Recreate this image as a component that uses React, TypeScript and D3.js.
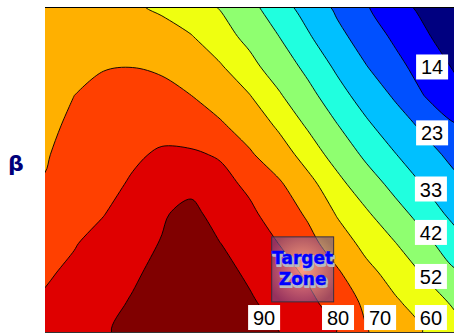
import React from "react";
import * as d3 from "d3";

// contour levels; band k is drawn where value >= levels[k-1]
const levels = [5, 14, 23, 33, 42, 52, 60, 70, 80, 90];
const bandColors = [
  "#000080", "#0000ff", "#0050ff", "#00c0ff", "#20ffdf", "#8fff70",
  "#efff10", "#ffb000", "#ff4000", "#df0000", "#800000",
];

// labelled contour values and their tag positions (grid col/row units)
const labelLevels = [14, 23, 33, 42, 52, 60, 70, 80, 90];
const labelCols = [13.75, 13.75, 13.71, 13.71, 13.71, 13.71, 11.97, 10.53, 8.0];
const labelRows = [2.53, 4.76, 6.66, 8.13, 9.62, 11.01, 11.01, 11.01, 11.01];

const zRows: number[][] = [
  [66, 64.3, 62.7, 61.0, 58.6, 55.2, 51.5, 44.5, 37.0, 29.0, 21.2, 14.6, 8.4, 2.6, -3],
  [67, 67.3, 67.5, 66.2, 63.3, 60.4, 55.5, 49.6, 42.1, 34.1, 25.6, 18.6, 12.4, 6.3, 0],
  [68, 69.0, 69.6, 69.8, 68.5, 63.5, 60.6, 54.6, 47.3, 39.5, 31.3, 23.2, 16.4, 10.2, 4.2],
  [68.5, 70.0, 71.9, 73.9, 73.0, 70.1, 65.3, 60.3, 53.1, 44.9, 36.5, 28.9, 21.7, 13.8, 8.1],
  [69, 70.8, 72.9, 75.0, 77.2, 75.4, 71.2, 65.4, 58.7, 50.9, 42.3, 34.5, 27.5, 20.9, 14.6],
  [69.4, 72.7, 75.8, 78.8, 81.1, 81.2, 79.2, 71.3, 64.1, 56.7, 48.5, 40.1, 33.3, 26.5, 20.5],
  [70.4, 74.6, 77.7, 80.9, 84.7, 86.6, 82.8, 78.3, 71.5, 62.6, 54.7, 46.7, 39.1, 32.3, 25.4],
  [75, 77.4, 79.7, 84.1, 88.8, 93.4, 85.0, 81.8, 75.8, 68.6, 59.3, 53.2, 45.4, 38.1, 30.5],
  [77.5, 79.5, 82.9, 86.7, 90.5, 94.0, 90.1, 85.0, 79.9, 73.3, 64.8, 57.3, 52.2, 44.3, 37.0],
  [79, 81.6, 85.2, 88.8, 92.4, 96.0, 92.6, 88.7, 83.9, 78.5, 71.3, 62.6, 56.5, 51.2, 43.1],
  [81, 84.2, 87.5, 90.7, 93.7, 96.8, 94.2, 91.1, 87.0, 82.3, 75.9, 68.0, 61.1, 55.9, 51],
  [82.5, 85.9, 89.2, 92.1, 94.9, 97.7, 95.6, 92.9, 90.1, 85.1, 79.9, 70.5, 64.9, 59.6, 55],
];

// target zone corners in grid units
const zoneCols = [8.26, 10.38];
const zoneRows = [8.28, 10.48];

export default function App() {
  const width = 454;
  const height = 334;
  const plot = { left: 45, top: 7, right: 454, bottom: 332 };

  const nx = zRows[0].length;
  const ny = zRows.length;

  const x = d3.scaleLinear().domain([0.5, nx - 0.5]).range([plot.left, plot.right]);
  const y = d3.scaleLinear().domain([0.5, ny - 0.5]).range([plot.top, plot.bottom]);

  const contours = d3.contours().size([nx, ny]).thresholds(levels)(zRows.flat());

  // smooth the marching-squares rings so the bands look like the original
  const ringLine = d3
    .line<number[]>()
    .x((p) => x(p[0]))
    .y((p) => y(p[1]))
    .curve(d3.curveCatmullRomClosed.alpha(0.5));

  function contourPath(c: any) {
    let d = "";
    c.coordinates.forEach((polygon: number[][][]) => {
      polygon.forEach((ring) => {
        d += ringLine(ring.slice(0, -1)) || "";
      });
    });
    return d;
  }

  const zx0 = x(zoneCols[0]);
  const zx1 = x(zoneCols[1]);
  const zy0 = y(zoneRows[0]);
  const zy1 = y(zoneRows[1]);
  const zcx = (zx0 + zx1) / 2;

  return (
    <div style={{ position: "absolute", left: 0, top: 0 }}>
      <svg width={width} height={height} style={{ display: "block", background: "#fff" }}>
        <defs>
          <clipPath id="plotClip">
            <rect x={plot.left} y={plot.top} width={plot.right - plot.left + 2} height={plot.bottom - plot.top} />
          </clipPath>
          <radialGradient id="zoneFill" cx="50%" cy="50%" r="60%">
            <stop offset="0%" stopColor="rgb(255,220,205)" stopOpacity={0.62} />
            <stop offset="100%" stopColor="rgb(105,80,150)" stopOpacity={0.62} />
          </radialGradient>
        </defs>

        <g clipPath="url(#plotClip)">
          <rect x={plot.left} y={plot.top} width={plot.right - plot.left + 2} height={plot.bottom - plot.top} fill={bandColors[0]} />
          {contours.map((c, i) => (
            <path
              key={i}
              d={contourPath(c)}
              fill={bandColors[i + 1]}
              fillRule="evenodd"
              stroke="#000"
              strokeWidth={0.9}
              strokeLinejoin="round"
            />
          ))}
        </g>

        <line x1={plot.left} x2={width} y1={plot.top + 0.5} y2={plot.top + 0.5} stroke="#000" strokeWidth={1} />
        <line x1={plot.left} x2={width} y1={plot.bottom + 0.5} y2={plot.bottom + 0.5} stroke="#333" strokeWidth={1} />

        {/* target zone */}
        <rect x={zx0} y={zy0} width={zx1 - zx0} height={zy1 - zy0} fill="url(#zoneFill)" stroke="#3a3040" strokeWidth={1} />
        {["Target", "Zone"].map((t, i) => (
          <g key={t} fontFamily="DejaVu Sans" fontWeight="bold" fontSize={17} textAnchor="middle">
            <text x={zcx + 1.2} y={zy0 + 27.5 + i * 21 + 1.2} fill="#b8b8c0" stroke="#b8b8c0" strokeWidth={2.2} strokeLinejoin="round">
              {t}
            </text>
            <text x={zcx} y={zy0 + 27.5 + i * 21} fill="#0000ff" stroke="#0000ff" strokeWidth={0.4}>
              {t}
            </text>
          </g>
        ))}

        {/* contour labels */}
        {labelLevels.map((v, i) => {
          const cx = x(labelCols[i]);
          const cy = y(labelRows[i]);
          return (
            <g key={v}>
              <rect x={cx - 16} y={cy - 12.5} width={32} height={25} fill="#fff" />
              <text x={cx} y={cy + 7.5} textAnchor="middle" fontFamily="Liberation Sans" fontSize={20} fill="#000">
                {v}
              </text>
            </g>
          );
        })}

        <text x={8} y={171} fontFamily="DejaVu Sans" fontWeight="bold" fontSize={22} fill="#00007a">
          β
        </text>
      </svg>
    </div>
  );
}
